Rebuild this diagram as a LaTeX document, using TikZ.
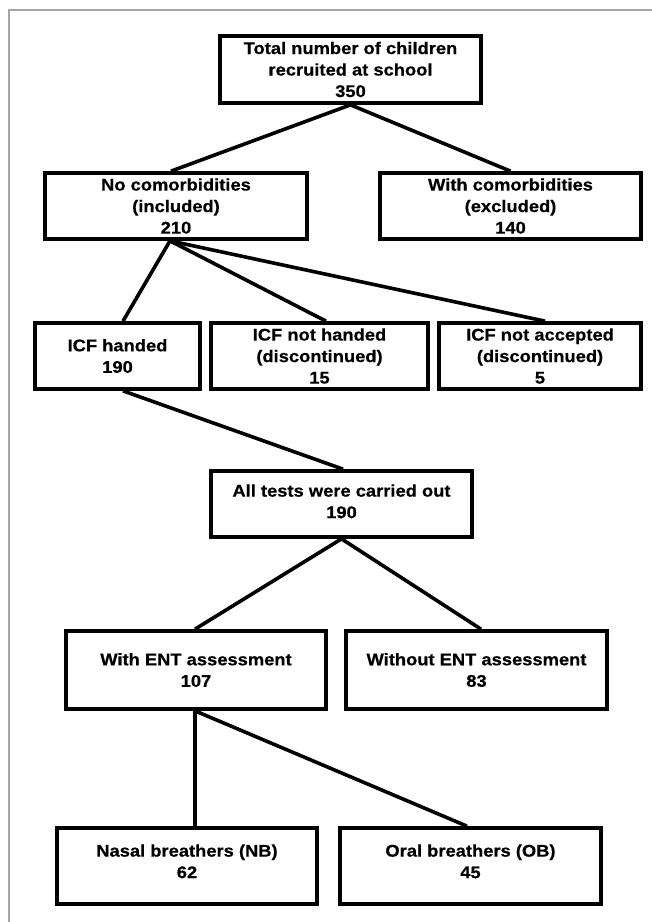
\documentclass[tikz,border=0pt]{standalone}
\usepackage{fontspec}
\setmainfont{Liberation Sans}[FakeStretch=1.085,BoldFeatures={FakeStretch=1.085,FakeBold=0.5}]
\begin{document}
\begin{tikzpicture}[x=1pt,y=-1pt,
  box/.style={draw=black,line width=3.7pt,rectangle,fill=white,align=center,
    font=\fontsize{16.9}{21.5}\selectfont\bfseries,inner sep=0pt},
  conn/.style={draw=black,line width=3.6pt}]
\useasboundingbox (0,0) rectangle (652,922);
\fill[white] (0,0) rectangle (652,922);
\draw[line width=1.5pt,color=black!35] (9,922) -- (9,10) -- (652,10);

\node[box,minimum width=261pt,minimum height=67pt] (tot) at (350.5,69.5)
  {Total number of children\\recruited at school\\350};
\node[box,minimum width=262pt,minimum height=66pt] (noc) at (176,206)
  {No comorbidities\\(included)\\210};
\node[box,minimum width=261pt,minimum height=66pt] (wc) at (510.5,206)
  {With comorbidities\\(excluded)\\140};
\node[box,minimum width=165pt,minimum height=66pt] (icfa) at (117.5,356)
  {ICF handed\\190};
\node[box,minimum width=217pt,minimum height=66pt] (icfb) at (319.5,356)
  {ICF not handed\\(discontinued)\\15};
\node[box,minimum width=202pt,minimum height=66pt] (icfc) at (540,356)
  {ICF not accepted\\(discontinued)\\5};
\node[box,minimum width=261pt,minimum height=66pt] (all) at (341.5,504)
  {All tests were carried out\\190\\[-16pt]};
\node[box,minimum width=260pt,minimum height=78pt] (ent) at (196,670)
  {With ENT assessment\\107};
\node[box,minimum width=261pt,minimum height=78pt] (went) at (476.5,670)
  {Without ENT assessment\\83};
\node[box,minimum width=260pt,minimum height=76pt] (nb) at (187,866)
  {Nasal breathers (NB)\\62\\[-12pt]};
\node[box,minimum width=261pt,minimum height=76pt] (ob) at (470.5,866)
  {Oral breathers (OB)\\45\\[-12pt]};

\draw[conn] (tot.south) -- ([xshift=-5pt]noc.north);
\draw[conn] (tot.south) -- (wc.north);
\draw[conn] ([xshift=-6pt]noc.south) -- ([xshift=5.5pt]icfa.north);
\draw[conn] ([xshift=-6pt]noc.south) -- ([xshift=6.5pt]icfb.north);
\draw[conn] ([xshift=-6pt]noc.south) -- ([xshift=5pt]icfc.north);
\draw[conn] ([xshift=5.5pt]icfa.south) -- ([xshift=1.5pt]all.north);
\draw[conn] (all.south) -- ([xshift=-1pt]ent.north);
\draw[conn] (all.south) -- ([xshift=4.5pt]went.north);
\draw[conn] ([xshift=-1pt]ent.south) -- ([xshift=-1pt]ent.south |- nb.north);
\draw[conn] ([xshift=-1pt]ent.south) -- ([xshift=-3.5pt]ob.north);
\end{tikzpicture}
\end{document}
